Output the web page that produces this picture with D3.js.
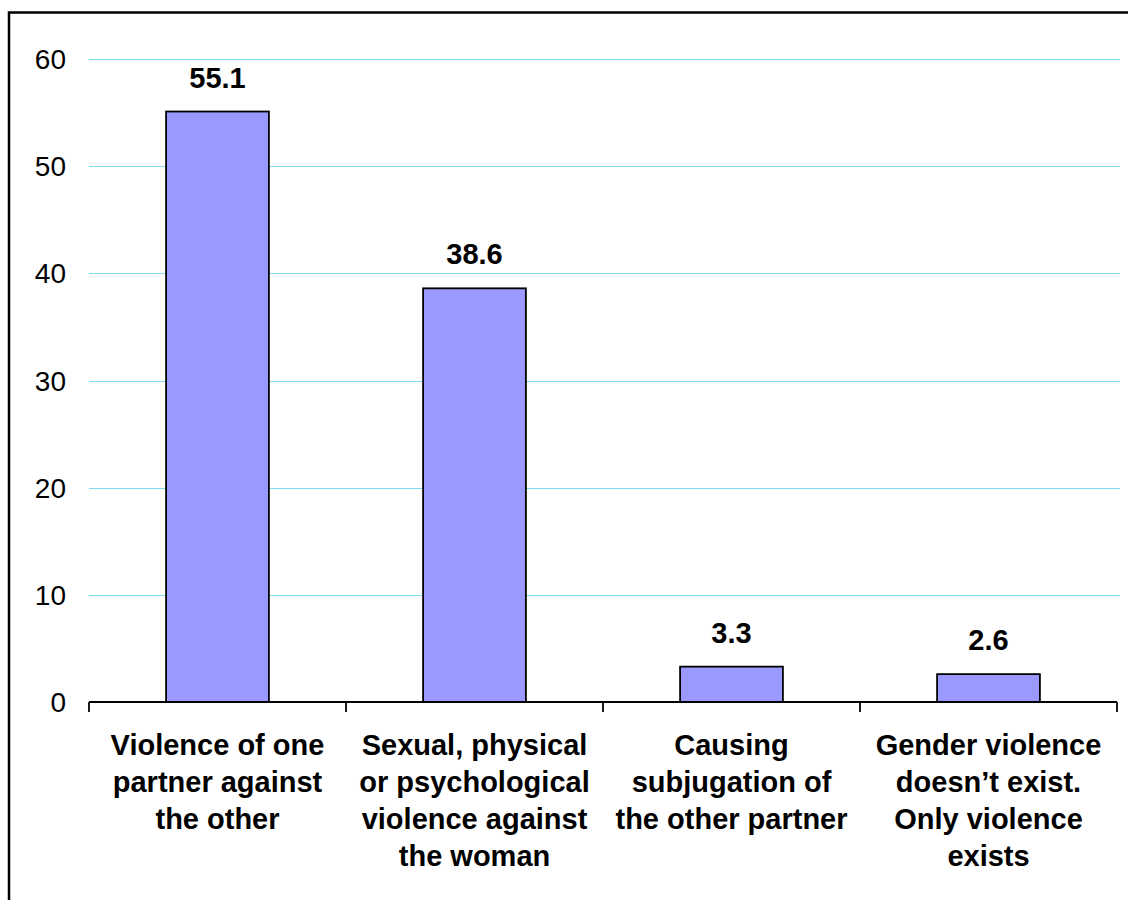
<!DOCTYPE html>
<html>
<head>
<meta charset="utf-8">
<script src="https://cdn.jsdelivr.net/npm/d3@7/dist/d3.min.js"></script>
<style>
  html, body { margin: 0; padding: 0; background: #fff; }
  svg { display: block; font-family: "Liberation Sans", Arial, sans-serif; }
</style>
</head>
<body>
<svg id="chart" width="1128" height="900"></svg>
<script>
// Survey answers: what gender violence means (percent of respondents)
const categories = [
  ["Violence of one", "partner against", "the other"],
  ["Sexual, physical", "or psychological", "violence against", "the woman"],
  ["Causing", "subjugation of", "the other partner"],
  ["Gender violence", "doesn\u2019t exist.", "Only violence", "exists"]
];
const values = [55.1, 38.6, 3.3, 2.6];
const yTicks = [0, 10, 20, 30, 40, 50, 60];

const svg = d3.select("#chart");

// outer frame
svg.append("rect")
  .attr("x", 9).attr("y", 12.5)
  .attr("width", 1130).attr("height", 900)
  .attr("fill", "none").attr("stroke", "#000").attr("stroke-width", 2.5);

const plot = { left: 89, right: 1117, top: 59, bottom: 702 };

const x = d3.scaleBand()
  .domain(d3.range(values.length))
  .range([plot.left, plot.right])
  .paddingInner(0).paddingOuter(0);

const y = d3.scaleLinear().domain([0, 60]).range([plot.bottom, plot.top]);

// horizontal gridlines in light cyan
svg.append("g")
  .selectAll("line")
  .data(yTicks.filter(d => d > 0))
  .join("line")
  .attr("x1", plot.left).attr("x2", 1120)
  .attr("y1", d => Math.round(y(d)) + 0.5).attr("y2", d => Math.round(y(d)) + 0.5)
  .attr("stroke", "#7ddcf6").attr("stroke-width", 1);

// y tick labels (no axis line)
svg.append("g")
  .selectAll("text")
  .data(yTicks)
  .join("text")
  .attr("x", 66).attr("y", d => y(d))
  .attr("dy", "0.36em")
  .attr("text-anchor", "end")
  .attr("font-size", 28)
  .attr("fill", "#000")
  .text(d => d);

// bars
const barW = x.bandwidth() * 0.4;
svg.append("g")
  .selectAll("rect")
  .data(values)
  .join("rect")
  .attr("x", (d, i) => x(i) + (x.bandwidth() - barW) / 2)
  .attr("y", d => y(d))
  .attr("width", barW)
  .attr("height", d => y(0) - y(d))
  .attr("fill", "#9999ff")
  .attr("stroke", "#000").attr("stroke-width", 1.8);

// x axis line with boundary ticks
const xAxis = svg.append("g");
xAxis.append("line")
  .attr("x1", plot.left).attr("x2", plot.right)
  .attr("y1", plot.bottom).attr("y2", plot.bottom)
  .attr("stroke", "#000").attr("stroke-width", 1.8);
xAxis.selectAll("line.tick")
  .data(d3.range(values.length + 1))
  .join("line")
  .attr("class", "tick")
  .attr("x1", i => i < values.length ? x(i) : plot.right)
  .attr("x2", i => i < values.length ? x(i) : plot.right)
  .attr("y1", plot.bottom).attr("y2", plot.bottom + 10)
  .attr("stroke", "#000").attr("stroke-width", 1.8);

// value labels
svg.append("g")
  .selectAll("text")
  .data(values)
  .join("text")
  .attr("x", (d, i) => x(i) + x.bandwidth() / 2)
  .attr("y", d => y(d) - 24)
  .attr("text-anchor", "middle")
  .attr("font-size", 29)
  .attr("font-weight", "bold")
  .text(d => d.toFixed(1));

// category labels
const catG = svg.append("g");
categories.forEach((lines, i) => {
  const cx = x(i) + x.bandwidth() / 2;
  const t = catG.append("text")
    .attr("x", cx)
    .attr("y", 755)
    .attr("text-anchor", "middle")
    .attr("font-size", 29)
    .attr("font-weight", "bold");
  lines.forEach((ln, j) => {
    t.append("tspan")
      .attr("x", cx)
      .attr("y", 755 + j * 37)
      .text(ln);
  });
});
</script>
</body>
</html>
